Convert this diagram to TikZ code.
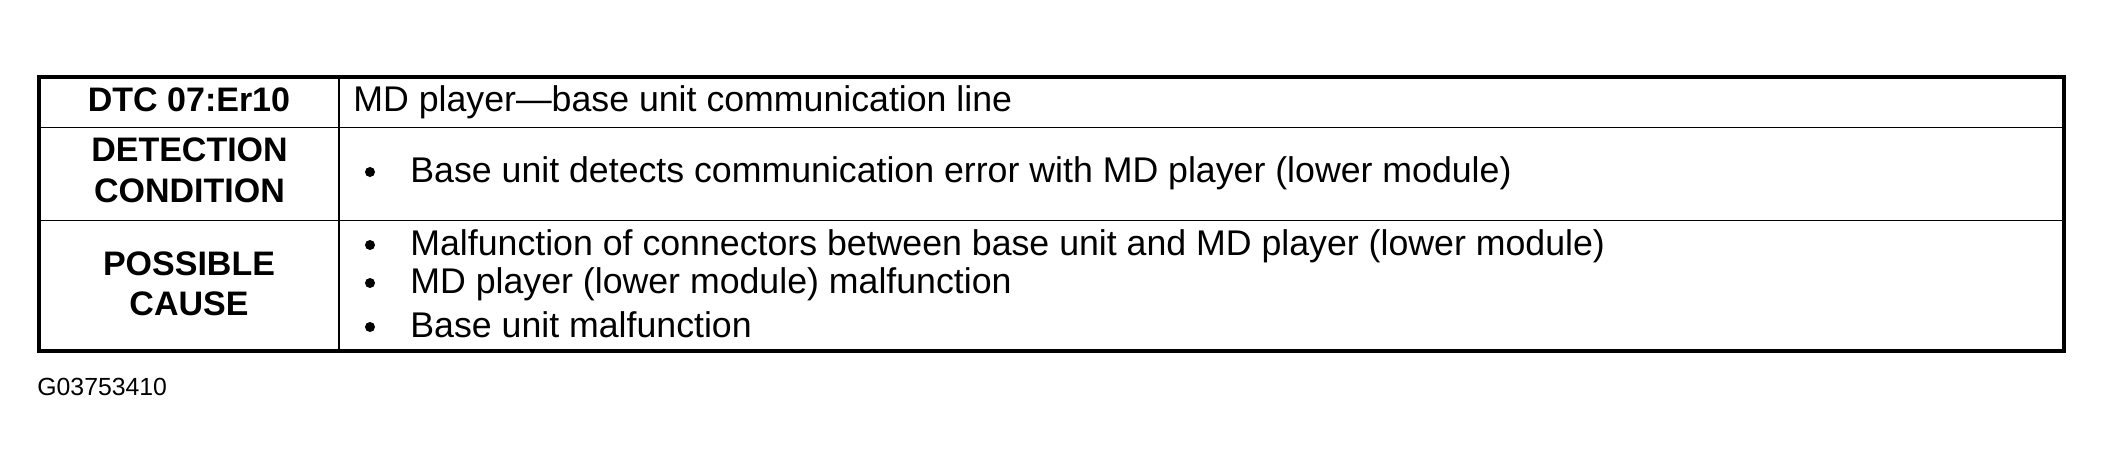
\documentclass[tikz,border=0pt]{standalone}
\usepackage{fontspec}
\setmainfont{Liberation Sans}
\begin{document}
\begin{tikzpicture}[x=0.5pt,y=0.5pt,
  head/.style={anchor=base,inner sep=0pt,font=\fontsize{17}{20}\selectfont\bfseries},
  item/.style={anchor=base west,inner sep=0pt,font=\fontsize{17.85}{20}\selectfont},
  dot/.style={circle,fill,inner sep=0pt,minimum size=5pt}]
  \useasboundingbox (0,0) rectangle (2103,472);
  % rules of the table
  \draw[line width=0.6pt] (339,121) -- (339,395);
  \draw[line width=0.6pt] (39,344.5) -- (2064,344.5);
  \draw[line width=0.6pt] (39,251.5) -- (2064,251.5);
  \draw[line width=2pt] (39,121) rectangle (2064,395);
  % left column
  \node[head] (dtc) at (189,360) {DTC 07:Er10};
  \node[head] (det) at (189.5,310) {DETECTION};
  \node[head] (cond) at (189.5,270) {CONDITION};
  \node[head] (poss) at (189,197) {POSSIBLE};
  \node[head] (cause) at (189,157) {CAUSE};
  % right column
  \node[item] (line) at (353,360) {MD player---base unit communication line};
  \node[item] (err) at (410,289) {Base unit detects communication error with MD player (lower module)};
  \node[item] (conn) at (410,217) {Malfunction of connectors between base unit and MD player (lower module)};
  \node[item] (md) at (410,179) {MD player (lower module) malfunction};
  \node[item] (base) at (410,135) {Base unit malfunction};
  \foreach \y/\n in {300/b1,227/b2,189/b3,145/b4}
    \node[dot] (\n) at (370,\y) {};
  \node[item,font=\fontsize{12.4}{14}\selectfont] (code) at (37,77) {G03753410};
\end{tikzpicture}
\end{document}
